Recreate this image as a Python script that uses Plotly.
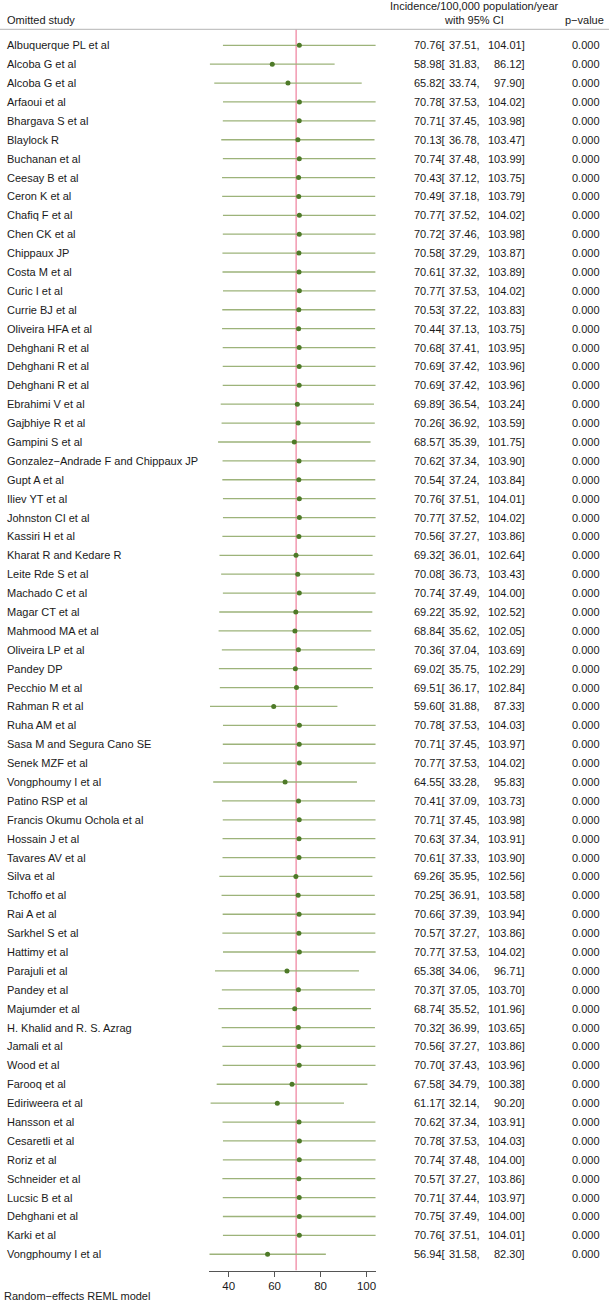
import plotly.graph_objects as go

studies = [
    "Albuquerque PL et al", "Alcoba G et al", "Alcoba G et al", "Arfaoui et al",
    "Bhargava S et al", "Blaylock R", "Buchanan et al", "Ceesay B et al",
    "Ceron K et al", "Chafiq F et al", "Chen CK et al", "Chippaux JP",
    "Costa M et al", "Curic I et al", "Currie BJ et al", "Oliveira HFA et al",
    "Dehghani R et al", "Dehghani R et al", "Dehghani R et al", "Ebrahimi V et al",
    "Gajbhiye R et al", "Gampini S et al", "Gonzalez\u2212Andrade F and Chippaux JP",
    "Gupt A et al", "Iliev YT et al", "Johnston CI et al", "Kassiri H et al",
    "Kharat R and Kedare R", "Leite Rde S et al", "Machado C et al", "Magar CT et al",
    "Mahmood MA et al", "Oliveira LP et al", "Pandey DP", "Pecchio M et al",
    "Rahman R et al", "Ruha AM et al", "Sasa M and Segura Cano SE", "Senek MZF et al",
    "Vongphoumy I et al", "Patino RSP et al", "Francis Okumu Ochola et al",
    "Hossain J et al", "Tavares AV et al", "Silva et al", "Tchoffo et al",
    "Rai A et al", "Sarkhel S et al", "Hattimy et al", "Parajuli et al",
    "Pandey et al", "Majumder et al", "H. Khalid and R. S. Azrag", "Jamali et al",
    "Wood et al", "Farooq et al", "Ediriweera et al", "Hansson et al",
    "Cesaretli et al", "Roriz et al", "Schneider et al", "Lucsic B et al",
    "Dehghani et al", "Karki et al", "Vongphoumy I et al",
]

estimate = [
    70.76, 58.98, 65.82, 70.78, 70.71, 70.13, 70.74, 70.43, 70.49, 70.77,
    70.72, 70.58, 70.61, 70.77, 70.53, 70.44, 70.68, 70.69, 70.69, 69.89,
    70.26, 68.57, 70.62, 70.54, 70.76, 70.77, 70.56, 69.32, 70.08, 70.74,
    69.22, 68.84, 70.36, 69.02, 69.51, 59.60, 70.78, 70.71, 70.77, 64.55,
    70.41, 70.71, 70.63, 70.61, 69.26, 70.25, 70.66, 70.57, 70.77, 65.38,
    70.37, 68.74, 70.32, 70.56, 70.70, 67.58, 61.17, 70.62, 70.78, 70.74,
    70.57, 70.71, 70.75, 70.76, 56.94,
]

ci_low = [
    37.51, 31.83, 33.74, 37.53, 37.45, 36.78, 37.48, 37.12, 37.18, 37.52,
    37.46, 37.29, 37.32, 37.53, 37.22, 37.13, 37.41, 37.42, 37.42, 36.54,
    36.92, 35.39, 37.34, 37.24, 37.51, 37.52, 37.27, 36.01, 36.73, 37.49,
    35.92, 35.62, 37.04, 35.75, 36.17, 31.88, 37.53, 37.45, 37.53, 33.28,
    37.09, 37.45, 37.34, 37.33, 35.95, 36.91, 37.39, 37.27, 37.53, 34.06,
    37.05, 35.52, 36.99, 37.27, 37.43, 34.79, 32.14, 37.34, 37.53, 37.48,
    37.27, 37.44, 37.49, 37.51, 31.58,
]

ci_high = [
    104.01, 86.12, 97.90, 104.02, 103.98, 103.47, 103.99, 103.75, 103.79, 104.02,
    103.98, 103.87, 103.89, 104.02, 103.83, 103.75, 103.95, 103.96, 103.96, 103.24,
    103.59, 101.75, 103.90, 103.84, 104.01, 104.02, 103.86, 102.64, 103.43, 104.00,
    102.52, 102.05, 103.69, 102.29, 102.84, 87.33, 104.03, 103.97, 104.02, 95.83,
    103.73, 103.98, 103.91, 103.90, 102.56, 103.58, 103.94, 103.86, 104.02, 96.71,
    103.70, 101.96, 103.65, 103.86, 103.96, 100.38, 90.20, 103.91, 104.03, 104.00,
    103.86, 103.97, 104.00, 104.01, 82.30,
]

p_value = [0.000] * len(studies)

overall = 69.36
x_ticks = [40, 60, 80, 100]

W, H = 609, 1305
FONT = "Liberation Sans, Arial, sans-serif"
n = len(studies)
rows = list(range(n))

# pixel geometry of the panel
row0, row_step = 45.3, 18.89
y_top_px, y_axis_px = 29.3, 1270.5
x_left_px, x_right_px = 209.3, 375.8

xs, ys = [], []
for i in rows:
    xs += [ci_low[i], ci_high[i], None]
    ys += [i, i, None]

fig = go.Figure()
fig.add_trace(go.Scatter(
    x=xs, y=ys, mode="lines",
    line=dict(color="#9DB37A", width=1.3),
    hoverinfo="skip", showlegend=False,
))
fig.add_trace(go.Scatter(
    x=estimate, y=rows, mode="markers",
    marker=dict(color="#4E7A28", size=5, symbol="circle"),
    showlegend=False,
))

fig.add_shape(type="line", xref="x", yref="y",
              x0=overall, x1=overall,
              y0=(y_top_px - row0) / row_step, y1=(y_axis_px - row0) / row_step,
              line=dict(color="#EE7F9C", width=1.2), layer="below")
fig.add_shape(type="line", xref="paper", yref="paper",
              x0=0, x1=1, y0=1 - y_top_px / H, y1=1 - y_top_px / H,
              line=dict(color="#B5B5B5", width=1))

txt = dict(size=11, color="#1a1a1a", family=FONT)
ann = []
for i in rows:
    ann.append(dict(x=5 / W, y=i, text=studies[i], xanchor="left"))
    ann.append(dict(x=447 / W, y=i, text=f"{estimate[i]:.2f}[", xanchor="right"))
    ann.append(dict(x=482 / W, y=i, text=f"{ci_low[i]:.2f},", xanchor="right"))
    ann.append(dict(x=527 / W, y=i, text=f"{ci_high[i]:.2f}]", xanchor="right"))
    ann.append(dict(x=602 / W, y=i, text=f"{p_value[i]:.3f}", xanchor="right"))
for a in ann:
    a.update(xref="paper", yref="y", yanchor="middle", showarrow=False, font=txt)

header = [
    dict(x=5 / W, y=1 - 20 / H, text="Omitted study", xanchor="left"),
    dict(x=474 / W, y=1 - 6 / H, text="Incidence/100,000 population/year", xanchor="center"),
    dict(x=474 / W, y=1 - 20 / H, text="with 95% CI", xanchor="center"),
    dict(x=606 / W, y=1 - 20 / H, text="p\u2212value", xanchor="right"),
    dict(x=2 / W, y=1 - 1296 / H, text="Random\u2212effects REML model", xanchor="left"),
]
for a in header:
    a.update(xref="paper", yref="paper", yanchor="middle", showarrow=False, font=txt)

fig.update_layout(
    width=W, height=H,
    margin=dict(l=0, r=0, t=0, b=0),
    paper_bgcolor="white", plot_bgcolor="white",
    annotations=ann + header,
    xaxis=dict(
        domain=[x_left_px / W, x_right_px / W],
        range=[min(ci_low), max(ci_high)],
        tickvals=x_ticks, ticks="outside", ticklen=5, tickcolor="#555",
        showline=True, linecolor="#555", linewidth=1,
        showgrid=False, zeroline=False,
        tickfont=dict(size=11.5, color="#1a1a1a", family=FONT),
    ),
    yaxis=dict(
        domain=[1 - y_axis_px / H, 1 - y_top_px / H],
        range=[(y_axis_px - row0) / row_step, (y_top_px - row0) / row_step],
        visible=False,
    ),
)

# page margin would push the 609x1305 figure off-screen
fig.write_html(
    "out.html",
    config={"displayModeBar": False},
    post_script="document.body.style.margin='0';document.body.style.overflow='hidden';",
)
